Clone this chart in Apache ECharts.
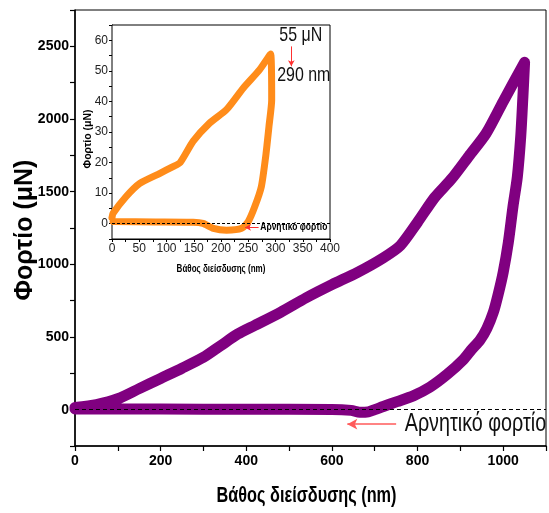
<!DOCTYPE html>
<html>
<head>
<meta charset="utf-8">
<script src="https://cdn.jsdelivr.net/npm/echarts@6/dist/echarts.min.js"></script>
<style>
  html, body { margin: 0; padding: 0; background: #fff; }
  #chart { width: 549px; height: 513px; }
</style>
</head>
<body>
<div id="chart"></div>
<script>
// Full load–unload curve (depth in nm, load in μN)
const mainLoadDepth   = [0, 50, 100, 150, 200, 250, 300, 340, 380, 420, 480, 540, 600, 660, 720, 760, 800, 840, 880, 920, 960, 1000, 1050];
const mainLoadForce   = [15, 35, 75, 145, 215, 285, 360, 440, 520, 580, 670, 770, 860, 945, 1045, 1130, 1290, 1460, 1590, 1745, 1900, 2120, 2390];
const mainUnloadDepth = [1050, 1046, 1041, 1033, 1023, 1012, 1000, 988, 977, 962, 946, 925, 907, 870, 829, 790, 752, 720, 700, 685, 665, 645, 600, 400, 200, 0];
const mainUnloadForce = [2390, 2150, 1880, 1600, 1400, 1150, 945, 790, 670, 560, 480, 410, 345, 245, 155, 95, 55, 22, 0, -15, -18, -5, 2, 3, 4, 5];

// Small-load test (inset)
const insetLoadDepth   = [0, 2, 26, 51, 88, 112, 125, 149, 179, 210, 241, 271, 291];
const insetLoadForce   = [2, 3.4, 8.9, 13.2, 16.5, 18.7, 20.0, 27.0, 32.9, 37.3, 44.4, 50.4, 55.5];
const insetUnloadDepth = [291, 293, 288, 282, 274, 262, 250, 238, 210, 186, 167, 149, 80, 2];
const insetUnloadForce = [55.5, 40.5, 31.8, 22, 12.1, 5.6, 0.7, -1.5, -2.1, -1.5, 0.1, 0.5, 0.6, 0.7];

const mainXTicks = [0, 200, 400, 600, 800, 1000];
const mainYTicks = [0, 500, 1000, 1500, 2000, 2500];
const insetXTicks = [0, 50, 100, 150, 200, 250, 300, 350, 400];
const insetYTicks = [0, 10, 20, 30, 40, 50, 60];

const xTitle = 'Βάθος διείσδυσης (nm)';
const yTitle = 'Φορτίο (μN)';
const peakLoadText = '55 μN';
const peakDepthText = '290 nm';
const negativeText = 'Αρνητικό φορτίο';

const SANS = "'Liberation Sans', Arial, sans-serif";

function pairs(xs, ys) { return xs.map((x, i) => [x, ys[i]]); }
const mainCurve = pairs(mainLoadDepth, mainLoadForce).concat(pairs(mainUnloadDepth, mainUnloadForce).slice(1));
const insetCurve = pairs(insetLoadDepth, insetLoadForce).concat(pairs(insetUnloadDepth, insetUnloadForce).slice(1));

const chart = echarts.init(document.getElementById('chart'), null, { renderer: 'canvas' });

const axisLineStyle = { color: '#000', width: 1.5 };

const option = {
  animation: false,
  backgroundColor: '#fff',
  grid: [
    { left: 75, right: 3, top: 10, bottom: 67, show: true, borderColor: '#000', borderWidth: 1, backgroundColor: 'transparent' },
    { left: 112, right: 219, top: 25, bottom: 274, show: true, borderColor: '#000', borderWidth: 1, backgroundColor: '#fff', z: 5 }
  ],
  xAxis: [
    {
      gridIndex: 0, type: 'value', min: 0, max: 1100, interval: 100,
      axisLine: { show: true, onZero: false, lineStyle: axisLineStyle },
      axisTick: { show: true, length: 5, lineStyle: { color: '#000', width: 1.2 } },
      axisLabel: {
        fontFamily: SANS, fontWeight: 'bold', fontSize: 14, color: '#000', margin: 8,
        formatter: v => mainXTicks.includes(v) ? String(v) : ''
      },
      splitLine: { show: false }
    },
    {
      gridIndex: 1, type: 'value', min: 0, max: 400, interval: 25,
      axisLine: { show: true, onZero: false, lineStyle: { color: '#000', width: 1 } },
      axisTick: { show: true, length: 3, lineStyle: { color: '#000', width: 1 } },
      axisLabel: {
        fontFamily: SANS, fontSize: 12, color: '#222', margin: 4,
        formatter: v => insetXTicks.includes(v) ? String(v) : ''
      },
      splitLine: { show: false }
    }
  ],
  yAxis: [
    {
      gridIndex: 0, type: 'value', min: -250, max: 2750, interval: 250,
      axisLine: { show: true, onZero: false, lineStyle: axisLineStyle },
      axisTick: { show: true, length: 5, lineStyle: { color: '#000', width: 1.2 } },
      axisLabel: {
        fontFamily: SANS, fontWeight: 'bold', fontSize: 14, color: '#000', margin: 6,
        formatter: v => mainYTicks.includes(v) ? String(v) : ''
      },
      splitLine: { show: false }
    },
    {
      gridIndex: 1, type: 'value', min: -5, max: 65, interval: 5,
      axisLine: { show: true, onZero: false, lineStyle: { color: '#000', width: 1 } },
      axisTick: { show: true, length: 3, lineStyle: { color: '#000', width: 1 } },
      axisLabel: {
        fontFamily: SANS, fontSize: 12, color: '#222', margin: 4,
        formatter: v => insetYTicks.includes(v) ? String(v) : ''
      },
      splitLine: { show: false }
    }
  ],
  series: [
    {
      name: 'main', type: 'line', xAxisIndex: 0, yAxisIndex: 0, data: mainCurve,
      showSymbol: false, smooth: 0.25, z: 3,
      lineStyle: { color: '#800080', width: 11, join: 'round', cap: 'round' },
      markLine: {
        silent: true, symbol: ['none', 'none'], z: 4,
        data: [
          [{ coord: [0, 0], lineStyle: { color: '#000', width: 1, type: [4, 3] } }, { coord: [1100, 0] }],
          [{ coord: [750, -100], symbol: 'none', lineStyle: { color: '#ff5a5a', width: 1.5, type: 'solid' } },
           { coord: [636, -100], symbol: 'arrow', symbolSize: [8, 10] }]
        ],
        label: { show: false }
      }
    },
    {
      name: 'inset', type: 'line', xAxisIndex: 1, yAxisIndex: 1, data: insetCurve,
      showSymbol: false, smooth: 0.2, z: 6,
      lineStyle: { color: '#ff8c1a', width: 7, join: 'round', cap: 'round' },
      markLine: {
        silent: true, symbol: ['none', 'none'], z: 7,
        data: [
          [{ coord: [0, 0], lineStyle: { color: '#000', width: 1, type: [3, 2] } }, { coord: [400, 0] }],
          [{ coord: [269, -1.2], lineStyle: { color: '#ff3030', width: 1, type: 'solid' } },
           { coord: [244, -1.2], symbol: 'arrow', symbolSize: [5, 6] }],
          [{ coord: [329, 58], lineStyle: { color: '#ff3030', width: 1, type: 'solid' } },
           { coord: [329, 51.5], symbol: 'arrow', symbolSize: [5, 6] }]
        ],
        label: { show: false }
      }
    }
  ]
};

chart.setOption(option);

// Condensed text helper: horizontally compressed label anchored at (x, y)
function narrowText(pos, text, size, sx, opts) {
  opts = opts || {};
  return {
    type: 'text', x: pos[0], y: pos[1], z: 20, scaleX: sx, rotation: opts.rotation || 0,
    style: {
      text: text, fontFamily: SANS, fontSize: size, fontWeight: opts.bold ? 'bold' : 'normal',
      fill: opts.fill || '#111', align: opts.align || 'left', verticalAlign: 'middle'
    }
  };
}

// Annotation anchors in data coordinates
const negMain = chart.convertToPixel({ gridIndex: 0 }, [770, -100]);
const negInset = chart.convertToPixel({ gridIndex: 1 }, [272, -1.2]);
const peakLoad = chart.convertToPixel({ gridIndex: 1 }, [307, 61.5]);
const peakDepth = chart.convertToPixel({ gridIndex: 1 }, [303, 48.5]);

// Axis title anchors
const mainXMid = chart.convertToPixel({ gridIndex: 0 }, [550, -250]);
const mainYMid = chart.convertToPixel({ gridIndex: 0 }, [0, 1250]);
const insetXMid = chart.convertToPixel({ gridIndex: 1 }, [200, -5]);
const insetYMid = chart.convertToPixel({ gridIndex: 1 }, [0, 30]);

chart.setOption({
  graphic: [
    narrowText([mainXMid[0] - 4, mainXMid[1] + 50], xTitle, 22, 0.74, { bold: true, align: 'center', fill: '#000' }),
    {
      type: 'text', x: mainYMid[0] - 50, y: mainYMid[1] + 2, z: 20, rotation: Math.PI / 2,
      style: { text: yTitle, fontFamily: SANS, fontSize: 25, fontWeight: 'bold', fill: '#000', align: 'center', verticalAlign: 'middle' }
    },
    narrowText([insetXMid[0], insetXMid[1] + 30], xTitle, 11, 0.73, { bold: true, align: 'center', fill: '#000' }),
    {
      type: 'text', x: insetYMid[0] - 24, y: insetYMid[1] + 7, z: 20, rotation: Math.PI / 2, scaleX: 0.95,
      style: { text: yTitle, fontFamily: SANS, fontSize: 11, fontWeight: 'bold', fill: '#000', align: 'center', verticalAlign: 'middle' }
    },
    narrowText(negMain, negativeText, 26, 0.76),
    narrowText(negInset, negativeText, 10, 0.85, { bold: true, fill: '#000' }),
    narrowText(peakLoad, peakLoadText, 21, 0.76),
    narrowText(peakDepth, peakDepthText, 21, 0.76)
  ]
});
</script>
</body>
</html>
